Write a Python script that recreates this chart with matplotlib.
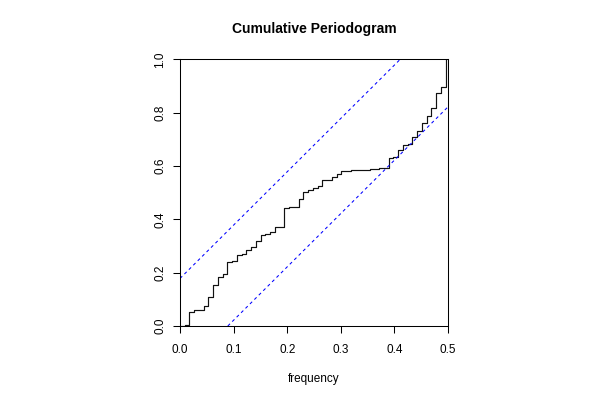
import numpy as np
import matplotlib
matplotlib.use('Agg')
import matplotlib.pyplot as plt

plt.rcParams['font.family'] = ['Liberation Sans', 'DejaVu Sans']

# cumulative periodogram, series length 113 -> 57 freqs
n_obs = 113
freq = np.arange(57) / n_obs
cum_spec = [0.0, 0.003, 0.053, 0.06, 0.061, 0.074, 0.11, 0.152, 0.182, 0.196,
            0.239, 0.244, 0.265, 0.269, 0.285, 0.295, 0.317, 0.343, 0.345, 0.354,
            0.37, 0.371, 0.444, 0.445, 0.446, 0.475, 0.501, 0.511, 0.519, 0.526,
            0.547, 0.548, 0.56, 0.569, 0.58, 0.583, 0.584, 0.585, 0.585, 0.586,
            0.587, 0.589, 0.592, 0.594, 0.629, 0.633, 0.66, 0.679, 0.682, 0.707,
            0.73, 0.76, 0.787, 0.818, 0.8725, 0.896, 1.0]
crit = 0.1783   # KS band half width
xm = 0.5

xticks = [0.0, 0.1, 0.2, 0.3, 0.4, 0.5]
yticks = [0.0, 0.2, 0.4, 0.6, 0.8, 1.0]

fig = plt.figure(figsize=(6, 4), dpi=100)
ax = fig.add_axes([180/600, 1 - 326/400, 268/600, (326 - 59.3)/400])

ax.step(freq, cum_spec, where='post', color='#111111', lw=0.85)
ax.plot([0, xm*(1 - crit)], [crit, 1], color='blue', lw=0.75, ls=(0, (3, 3)))
ax.plot([xm*crit, xm], [0, 1 - crit], color='blue', lw=0.75, ls=(0, (3, 3)))

ax.set_xlim(0, xm)
ax.set_ylim(0, 1)
ax.set_xticks(xticks)
ax.set_xticklabels([f'{v:.1f}' for v in xticks])
ax.set_yticks(yticks)
ax.set_yticklabels([f'{v:.1f}' for v in yticks], rotation=90, va='center')
ax.tick_params(direction='out', length=5, width=0.75, labelsize=8.5)
ax.tick_params(axis='x', pad=8)
ax.tick_params(axis='y', pad=5)
for s in ax.spines.values():
    s.set_linewidth(0.75)

ax.set_xlabel('frequency', fontsize=8.5, labelpad=12)
ax.set_title('Cumulative Periodogram', fontsize=10, fontweight='bold', pad=19)

fig.savefig('out.png', dpi=100)
